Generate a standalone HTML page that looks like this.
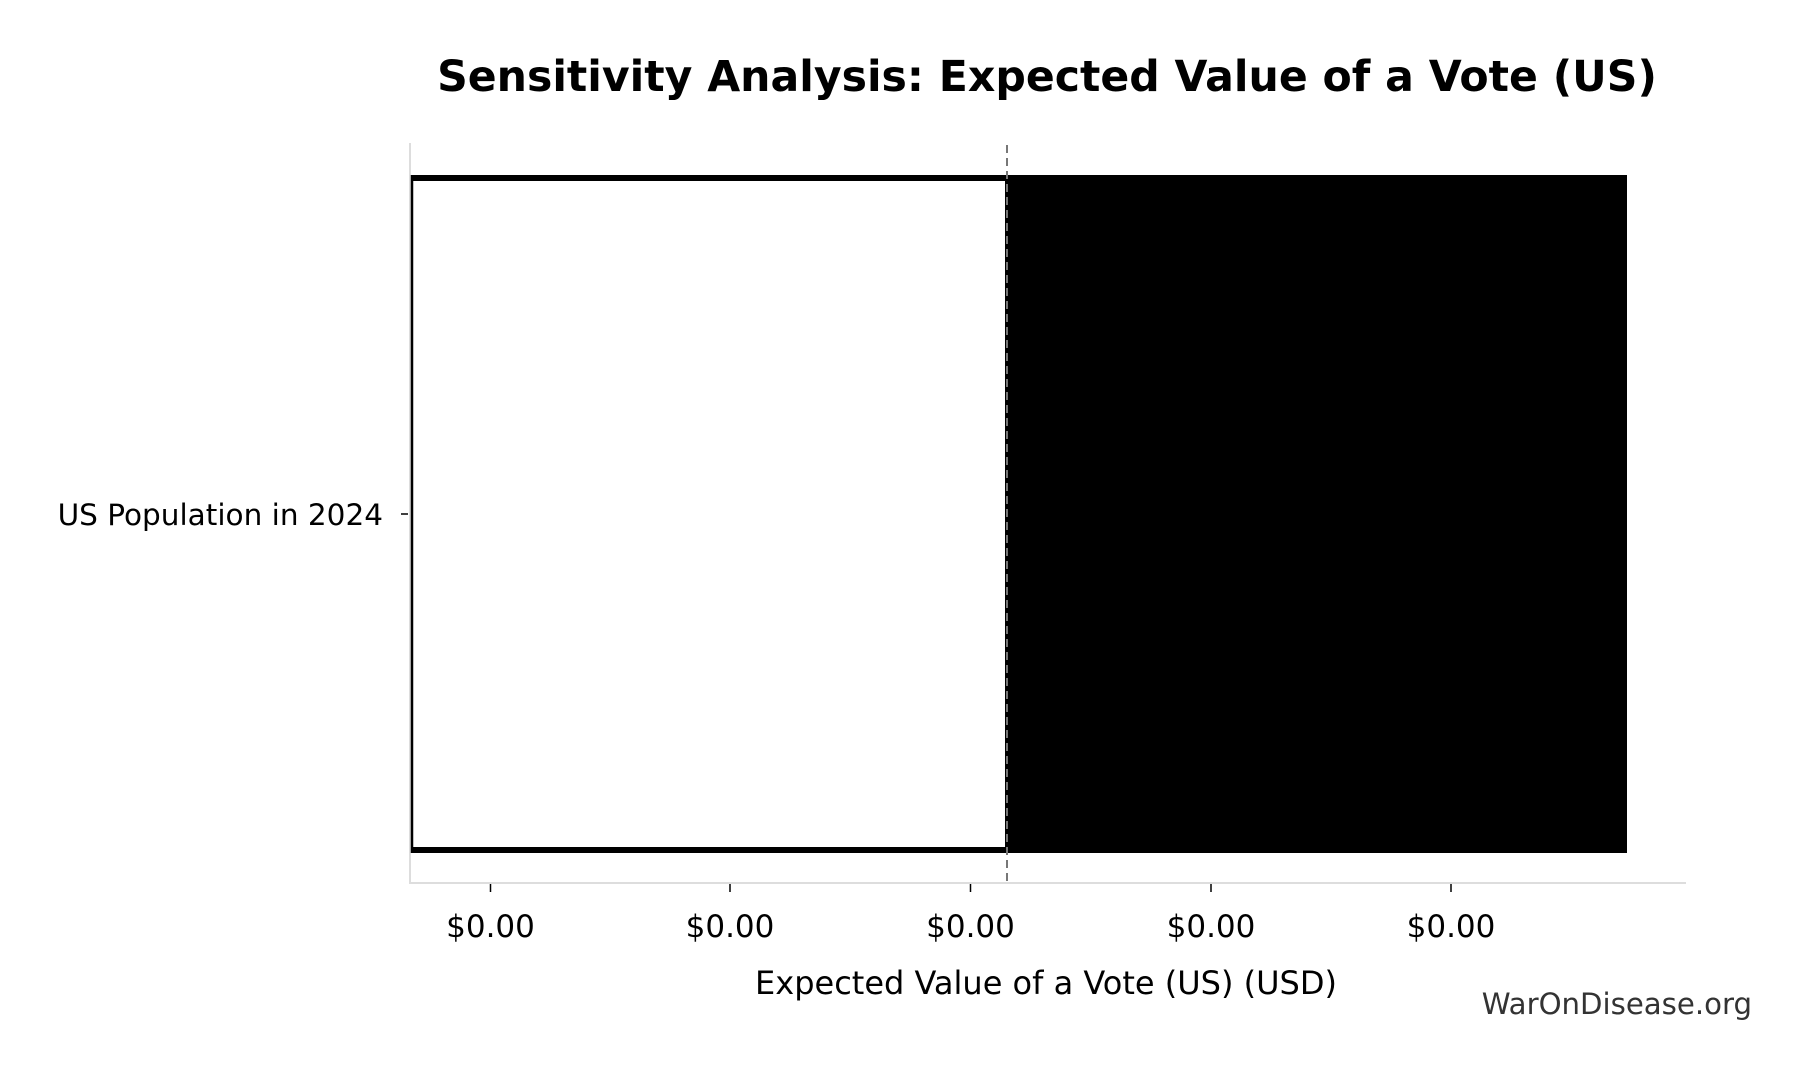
<!DOCTYPE html>
<html><head><style>
body{margin:0;background:#fff;}
svg text{font-family:"DejaVu Sans","Liberation Sans",sans-serif;}
</style></head><body>
<svg width="1809" height="1075" xmlns="http://www.w3.org/2000/svg">
<rect width="1809" height="1075" fill="#fff"/>
<text x="1047" y="91" font-size="42.6" font-weight="bold" text-anchor="middle">Sensitivity Analysis: Expected Value of a Vote (US)</text>
<line x1="410" y1="143" x2="410" y2="883" stroke="#dddddd" stroke-width="2"/>
<line x1="409" y1="883" x2="1686" y2="883" stroke="#dddddd" stroke-width="2"/>
<rect x="1005" y="175" width="622" height="678" fill="#000"/>
<rect x="411" y="175" width="594" height="6" fill="#000"/>
<rect x="411" y="847" width="594" height="6" fill="#000"/>
<line x1="412" y1="175" x2="412" y2="853" stroke="#000" stroke-width="2.5"/>
<line x1="1007" y1="145" x2="1007" y2="883" stroke="#777" stroke-width="2" stroke-dasharray="8,5"/>
<line x1="401" y1="514" x2="408" y2="514" stroke="#000" stroke-width="1.5"/>
<text x="383" y="525" font-size="29.5" text-anchor="end">US Population in 2024</text>
<g stroke="#000" stroke-width="1.5">
<line x1="490.5" y1="884" x2="490.5" y2="892"/>
<line x1="730" y1="884" x2="730" y2="892"/>
<line x1="970.5" y1="884" x2="970.5" y2="892"/>
<line x1="1211" y1="884" x2="1211" y2="892"/>
<line x1="1451" y1="884" x2="1451" y2="892"/>
</g>
<g font-size="31" text-anchor="middle">
<text x="490.5" y="937">$0.00</text>
<text x="730" y="937">$0.00</text>
<text x="970.5" y="937">$0.00</text>
<text x="1211" y="937">$0.00</text>
<text x="1451" y="937">$0.00</text>
</g>
<text x="1046" y="994" font-size="32" text-anchor="middle">Expected Value of a Vote (US) (USD)</text>
<text x="1752" y="1014" font-size="29.2" text-anchor="end" fill="#333">WarOnDisease.org</text>
</svg>
</body></html>
